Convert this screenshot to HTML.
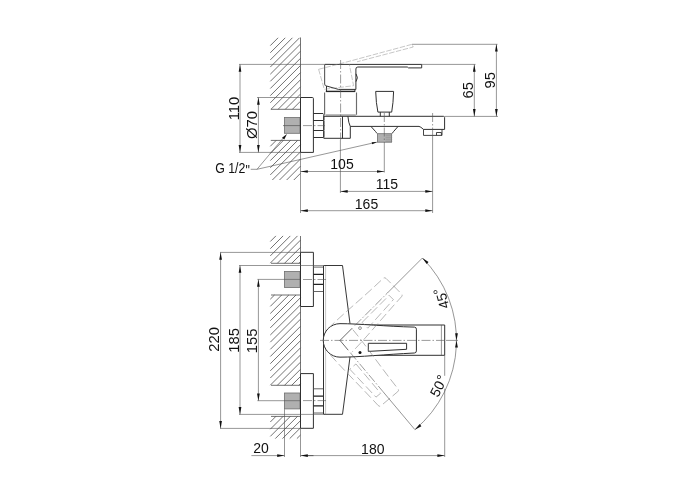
<!DOCTYPE html>
<html><head><meta charset="utf-8"><title>Faucet drawing</title>
<style>
html,body{margin:0;padding:0;background:#fff;}
body{width:700px;height:500px;overflow:hidden;}
svg{display:block;filter:grayscale(1);}
text{font-family:"Liberation Sans",sans-serif;fill:#111;}
</style></head><body>
<svg width="700" height="500" viewBox="0 0 700 500">
<rect x="0" y="0" width="700" height="500" fill="#fff"/>
<line x1="270.30" y1="45.60" x2="278.10" y2="37.80" stroke="#424242" stroke-width="0.75" fill="none"/>
<line x1="270.30" y1="52.75" x2="285.25" y2="37.80" stroke="#424242" stroke-width="0.75" fill="none"/>
<line x1="270.30" y1="59.90" x2="292.40" y2="37.80" stroke="#424242" stroke-width="0.75" fill="none"/>
<line x1="270.30" y1="67.05" x2="299.55" y2="37.80" stroke="#424242" stroke-width="0.75" fill="none"/>
<line x1="270.30" y1="74.20" x2="300.50" y2="44.00" stroke="#424242" stroke-width="0.75" fill="none"/>
<line x1="270.30" y1="81.35" x2="300.50" y2="51.15" stroke="#424242" stroke-width="0.75" fill="none"/>
<line x1="270.30" y1="88.50" x2="300.50" y2="58.30" stroke="#424242" stroke-width="0.75" fill="none"/>
<line x1="270.30" y1="95.65" x2="300.50" y2="65.45" stroke="#424242" stroke-width="0.75" fill="none"/>
<line x1="270.30" y1="102.80" x2="300.50" y2="72.60" stroke="#424242" stroke-width="0.75" fill="none"/>
<line x1="270.95" y1="109.30" x2="300.50" y2="79.75" stroke="#424242" stroke-width="0.75" fill="none"/>
<line x1="278.10" y1="109.30" x2="300.50" y2="86.90" stroke="#424242" stroke-width="0.75" fill="none"/>
<line x1="285.25" y1="109.30" x2="300.50" y2="94.05" stroke="#424242" stroke-width="0.75" fill="none"/>
<line x1="292.40" y1="109.30" x2="300.50" y2="101.20" stroke="#424242" stroke-width="0.75" fill="none"/>
<line x1="270.80" y1="109.30" x2="300.50" y2="109.30" stroke="#424242" stroke-width="0.75" fill="none"/>
<line x1="270.30" y1="146.30" x2="276.20" y2="140.40" stroke="#424242" stroke-width="0.75" fill="none"/>
<line x1="270.30" y1="153.45" x2="283.35" y2="140.40" stroke="#424242" stroke-width="0.75" fill="none"/>
<line x1="270.30" y1="160.60" x2="290.50" y2="140.40" stroke="#424242" stroke-width="0.75" fill="none"/>
<line x1="270.30" y1="167.75" x2="297.65" y2="140.40" stroke="#424242" stroke-width="0.75" fill="none"/>
<line x1="270.30" y1="174.90" x2="300.50" y2="144.70" stroke="#424242" stroke-width="0.75" fill="none"/>
<line x1="272.35" y1="180.00" x2="300.50" y2="151.85" stroke="#424242" stroke-width="0.75" fill="none"/>
<line x1="279.50" y1="180.00" x2="300.50" y2="159.00" stroke="#424242" stroke-width="0.75" fill="none"/>
<line x1="286.65" y1="180.00" x2="300.50" y2="166.15" stroke="#424242" stroke-width="0.75" fill="none"/>
<line x1="293.80" y1="180.00" x2="300.50" y2="173.30" stroke="#424242" stroke-width="0.75" fill="none"/>
<line x1="270.80" y1="140.40" x2="300.50" y2="140.40" stroke="#424242" stroke-width="0.75" fill="none"/>
<line x1="300.50" y1="37.50" x2="300.50" y2="97.50" stroke="#505050" stroke-width="0.8" fill="none"/>
<line x1="300.50" y1="152.40" x2="300.50" y2="213.00" stroke="#505050" stroke-width="0.6" fill="none"/>
<rect x="284.4" y="117.4" width="15.6" height="15.9" fill="#b0b0b0" stroke="#6e6e6e" stroke-width="0.8"/>
<path d="M300.5 97.5 H312.4 Q313.4 97.5 313.4 98.5 V152.4 H300.5 Z" stroke="#303030" stroke-width="1.0" fill="none" stroke-linejoin="round"/>
<path d="M313.4 113.5 H323 L323.8 114.3 V119.8 L323.2 120.5 L323.8 121.2 V129.8 L323.2 130.5 L323.8 131.2 V136.8 L323 137.5 H313.4" stroke="#303030" stroke-width="1.0" fill="none" stroke-linejoin="round"/>
<path d="M313.4 120.5 H323.2 M313.4 130.5 H323.2" stroke="#303030" stroke-width="1.0" fill="none" stroke-linejoin="round"/>
<path d="M324.6 92.4 V114.8 M356.5 92.4 V114.8" stroke="#6c6c6c" stroke-width="1.15" fill="none"/>
<path d="M325.6 115 H355.8" stroke="#6c6c6c" stroke-width="0.9" fill="none"/>
<path d="M325.8 91.4 H355.2" stroke="#262626" stroke-width="1.4" fill="none"/>
<path d="M323.8 116.3 H348 M323.8 116.3 V138.3 H350.3 V126.5" stroke="#303030" stroke-width="1.0" fill="none" stroke-linejoin="round"/>
<line x1="342.50" y1="116.30" x2="342.50" y2="138.30" stroke="#303030" stroke-width="1.0" fill="none" stroke-linejoin="round"/>
<path d="M325 64.4 H421.7 V67.9 H408.5 L407.3 67 H357.8 Q355.9 67 355.9 69 V89.4 H338.5 L326.5 86" stroke="#303030" stroke-width="1.0" fill="none" stroke-linejoin="round"/>
<path d="M324.6 64.4 V84 Q324.8 85.5 326.5 86" stroke="#606060" stroke-width="1.15" fill="none"/>
<path d="M326.5 86 V91.4 M354.9 89.4 V91.4" stroke="#303030" stroke-width="1.0" fill="none" stroke-linejoin="round"/>
<path d="M356 73.8 Q358.8 77.7 356 81.6" stroke="#303030" stroke-width="1.0" fill="none" stroke-linejoin="round"/>
<path d="M347.9 116.3 H443.4 Q444.6 116.3 444.6 117.5 V129.4 H423.5 M350.3 126.4 H419 Q420.5 126.6 423.5 129.4 M371 126.5 L375.6 131.6 Q376.4 133 377.3 133.5 M391.8 133.5 Q392.8 133 393.5 131.6 L398 126.5" stroke="#303030" stroke-width="1.0" fill="none" stroke-linejoin="round"/>
<path d="M347.9 116.3 Q348.5 123 350.3 126.5" stroke="#303030" stroke-width="1.0" fill="none" stroke-linejoin="round"/>
<path d="M423.5 129.4 V135.4 H442 V129.4 M436.5 135.4 V132.5 H441.4 V135.2" stroke="#303030" stroke-width="0.9" fill="none"/>
<rect x="377.5" y="133.7" width="14.1" height="8.5" fill="#b0b0b0" stroke="#6e6e6e" stroke-width="0.8"/>
<line x1="385.50" y1="135.20" x2="392.30" y2="135.20" stroke="#8a8a8a" stroke-width="0.6"/>
<line x1="385.50" y1="137.20" x2="392.30" y2="137.20" stroke="#8a8a8a" stroke-width="0.6"/>
<line x1="385.50" y1="139.20" x2="392.30" y2="139.20" stroke="#8a8a8a" stroke-width="0.6"/>
<line x1="385.50" y1="141.20" x2="392.30" y2="141.20" stroke="#8a8a8a" stroke-width="0.6"/>
<path d="M375.7 91.4 H393.6 Q393.3 103 391.7 112.1 H377.9 Q376 103 375.7 91.4 Z" stroke="#303030" stroke-width="1.0" fill="none" stroke-linejoin="round"/>
<path d="M380.3 112.1 V116.3 M389.3 112.1 V116.3" stroke="#303030" stroke-width="1.0" fill="none" stroke-linejoin="round"/>
<path d="M318.6 69.3 L324.3 89.3 L353.6 85.7 L349.3 64.3" stroke="#8e8e8e" stroke-width="0.5" fill="none" stroke-dasharray="5.5 1.5"/>
<path d="M318.6 69.3 L340.7 63.6 L412 44.3 L413.2 47 L357 61.8" stroke="#8e8e8e" stroke-width="0.5" fill="none" stroke-dasharray="5.5 1.5"/>
<line x1="340.60" y1="60.00" x2="340.60" y2="140.00" stroke="#555" stroke-width="0.6" fill="none" stroke-dasharray="9 2 1.5 2"/>
<line x1="340.40" y1="140.00" x2="340.40" y2="193.00" stroke="#505050" stroke-width="0.6" fill="none"/>
<line x1="384.30" y1="113.00" x2="384.30" y2="146.00" stroke="#555" stroke-width="0.6" fill="none" stroke-dasharray="9 2 1.5 2"/>
<line x1="384.30" y1="146.00" x2="384.30" y2="172.50" stroke="#505050" stroke-width="0.6" fill="none"/>
<line x1="432.60" y1="113.00" x2="432.60" y2="128.00" stroke="#555" stroke-width="0.6" fill="none" stroke-dasharray="9 2 1.5 2"/>
<line x1="432.60" y1="128.00" x2="432.60" y2="213.00" stroke="#505050" stroke-width="0.6" fill="none"/>
<line x1="283.00" y1="125.60" x2="300.00" y2="125.60" stroke="#555" stroke-width="0.7"/>
<line x1="303.00" y1="125.60" x2="325.00" y2="125.60" stroke="#555" stroke-width="0.6" fill="none" stroke-dasharray="9 2 1.5 2"/>
<line x1="239.00" y1="64.40" x2="330.00" y2="64.40" stroke="#505050" stroke-width="0.6" fill="none"/>
<line x1="239.00" y1="152.40" x2="300.50" y2="152.40" stroke="#505050" stroke-width="0.6" fill="none"/>
<line x1="240.00" y1="64.40" x2="240.00" y2="152.40" stroke="#505050" stroke-width="0.6" fill="none"/>
<polygon points="240.00,64.40 241.35,71.70 238.65,71.70" fill="#111"/>
<polygon points="240.00,152.40 238.65,145.10 241.35,145.10" fill="#111"/>
<text x="238.50" y="108.50" font-size="14.8" text-anchor="middle" transform="rotate(-90 238.50 108.50)">110</text>
<line x1="257.00" y1="97.50" x2="300.50" y2="97.50" stroke="#505050" stroke-width="0.6" fill="none"/>
<line x1="258.40" y1="97.50" x2="258.40" y2="152.40" stroke="#505050" stroke-width="0.6" fill="none"/>
<polygon points="258.40,97.50 259.75,104.80 257.05,104.80" fill="#111"/>
<polygon points="258.40,152.40 257.05,145.10 259.75,145.10" fill="#111"/>
<text x="256.50" y="125.00" font-size="14.8" text-anchor="middle" transform="rotate(-90 256.50 125.00)">Ø70</text>
<line x1="421.70" y1="64.40" x2="475.50" y2="64.40" stroke="#505050" stroke-width="0.6" fill="none"/>
<line x1="445.00" y1="116.40" x2="498.00" y2="116.40" stroke="#505050" stroke-width="0.6" fill="none"/>
<line x1="474.30" y1="64.40" x2="474.30" y2="116.40" stroke="#505050" stroke-width="0.6" fill="none"/>
<polygon points="474.30,64.40 475.65,71.70 472.95,71.70" fill="#111"/>
<polygon points="474.30,116.40 472.95,109.10 475.65,109.10" fill="#111"/>
<text x="473.20" y="90.30" font-size="14.8" text-anchor="middle" transform="rotate(-90 473.20 90.30)">65</text>
<line x1="412.00" y1="44.30" x2="497.50" y2="44.30" stroke="#505050" stroke-width="0.6" fill="none"/>
<line x1="496.40" y1="44.30" x2="496.40" y2="116.40" stroke="#505050" stroke-width="0.6" fill="none"/>
<polygon points="496.40,44.30 497.75,51.60 495.05,51.60" fill="#111"/>
<polygon points="496.40,116.40 495.05,109.10 497.75,109.10" fill="#111"/>
<text x="495.10" y="80.30" font-size="14.8" text-anchor="middle" transform="rotate(-90 495.10 80.30)">95</text>
<line x1="300.50" y1="171.50" x2="384.30" y2="171.50" stroke="#505050" stroke-width="0.6" fill="none"/>
<polygon points="300.50,171.50 307.80,170.15 307.80,172.85" fill="#111"/>
<polygon points="384.30,171.50 377.00,172.85 377.00,170.15" fill="#111"/>
<text x="342.00" y="168.80" font-size="14" text-anchor="middle">105</text>
<line x1="340.40" y1="191.40" x2="432.60" y2="191.40" stroke="#505050" stroke-width="0.6" fill="none"/>
<polygon points="340.40,191.40 347.70,190.05 347.70,192.75" fill="#111"/>
<polygon points="432.60,191.40 425.30,192.75 425.30,190.05" fill="#111"/>
<text x="387.00" y="189.20" font-size="14" text-anchor="middle">115</text>
<line x1="300.50" y1="210.70" x2="432.60" y2="210.70" stroke="#505050" stroke-width="0.6" fill="none"/>
<polygon points="300.50,210.70 307.80,209.35 307.80,212.05" fill="#111"/>
<polygon points="432.60,210.70 425.30,212.05 425.30,209.35" fill="#111"/>
<text x="366.50" y="208.50" font-size="14" text-anchor="middle">165</text>
<text x="215.2" y="173.2" font-size="14" textLength="34.6" lengthAdjust="spacingAndGlyphs">G 1/2<tspan dy="2">"</tspan></text>
<path d="M250.7 169.3 H257 L284.5 136.5 M257 169.3 L376.5 142.2" stroke="#505050" stroke-width="0.6" fill="none"/>
<polygon points="287.00,134.00 284.29,139.56 281.99,137.63" fill="#111"/>
<polygon points="377.30,142.00 372.19,144.31 371.69,142.17" fill="#111"/>
<line x1="270.30" y1="241.50" x2="275.90" y2="235.90" stroke="#424242" stroke-width="0.75" fill="none"/>
<line x1="270.30" y1="248.70" x2="283.10" y2="235.90" stroke="#424242" stroke-width="0.75" fill="none"/>
<line x1="270.30" y1="255.90" x2="290.30" y2="235.90" stroke="#424242" stroke-width="0.75" fill="none"/>
<line x1="270.30" y1="263.10" x2="297.50" y2="235.90" stroke="#424242" stroke-width="0.75" fill="none"/>
<line x1="277.30" y1="263.30" x2="300.50" y2="240.10" stroke="#424242" stroke-width="0.75" fill="none"/>
<line x1="284.50" y1="263.30" x2="300.50" y2="247.30" stroke="#424242" stroke-width="0.75" fill="none"/>
<line x1="291.70" y1="263.30" x2="300.50" y2="254.50" stroke="#424242" stroke-width="0.75" fill="none"/>
<line x1="298.90" y1="263.30" x2="300.50" y2="261.70" stroke="#424242" stroke-width="0.75" fill="none"/>
<line x1="271.00" y1="263.30" x2="300.50" y2="263.30" stroke="#424242" stroke-width="0.75" fill="none"/>
<line x1="270.30" y1="299.20" x2="274.50" y2="295.00" stroke="#424242" stroke-width="0.75" fill="none"/>
<line x1="270.30" y1="306.36" x2="281.66" y2="295.00" stroke="#424242" stroke-width="0.75" fill="none"/>
<line x1="270.30" y1="313.53" x2="288.83" y2="295.00" stroke="#424242" stroke-width="0.75" fill="none"/>
<line x1="270.30" y1="320.69" x2="296.00" y2="295.00" stroke="#424242" stroke-width="0.75" fill="none"/>
<line x1="270.30" y1="327.86" x2="300.50" y2="297.66" stroke="#424242" stroke-width="0.75" fill="none"/>
<line x1="270.30" y1="335.03" x2="300.50" y2="304.83" stroke="#424242" stroke-width="0.75" fill="none"/>
<line x1="270.30" y1="342.19" x2="300.50" y2="311.99" stroke="#424242" stroke-width="0.75" fill="none"/>
<line x1="270.30" y1="349.35" x2="300.50" y2="319.15" stroke="#424242" stroke-width="0.75" fill="none"/>
<line x1="270.30" y1="356.52" x2="300.50" y2="326.32" stroke="#424242" stroke-width="0.75" fill="none"/>
<line x1="270.30" y1="363.69" x2="300.50" y2="333.49" stroke="#424242" stroke-width="0.75" fill="none"/>
<line x1="270.30" y1="370.85" x2="300.50" y2="340.65" stroke="#424242" stroke-width="0.75" fill="none"/>
<line x1="270.30" y1="378.02" x2="300.50" y2="347.82" stroke="#424242" stroke-width="0.75" fill="none"/>
<line x1="270.30" y1="385.18" x2="300.50" y2="354.98" stroke="#424242" stroke-width="0.75" fill="none"/>
<line x1="277.34" y1="385.30" x2="300.50" y2="362.14" stroke="#424242" stroke-width="0.75" fill="none"/>
<line x1="284.51" y1="385.30" x2="300.50" y2="369.31" stroke="#424242" stroke-width="0.75" fill="none"/>
<line x1="291.68" y1="385.30" x2="300.50" y2="376.48" stroke="#424242" stroke-width="0.75" fill="none"/>
<line x1="298.84" y1="385.30" x2="300.50" y2="383.64" stroke="#424242" stroke-width="0.75" fill="none"/>
<line x1="271.00" y1="295.00" x2="300.50" y2="295.00" stroke="#424242" stroke-width="0.75" fill="none"/>
<line x1="271.00" y1="385.30" x2="300.50" y2="385.30" stroke="#424242" stroke-width="0.75" fill="none"/>
<line x1="270.30" y1="422.00" x2="275.90" y2="416.40" stroke="#424242" stroke-width="0.75" fill="none"/>
<line x1="270.30" y1="429.20" x2="283.10" y2="416.40" stroke="#424242" stroke-width="0.75" fill="none"/>
<line x1="270.30" y1="436.40" x2="290.30" y2="416.40" stroke="#424242" stroke-width="0.75" fill="none"/>
<line x1="275.30" y1="438.60" x2="297.50" y2="416.40" stroke="#424242" stroke-width="0.75" fill="none"/>
<line x1="282.50" y1="438.60" x2="300.50" y2="420.60" stroke="#424242" stroke-width="0.75" fill="none"/>
<line x1="289.70" y1="438.60" x2="300.50" y2="427.80" stroke="#424242" stroke-width="0.75" fill="none"/>
<line x1="296.90" y1="438.60" x2="300.50" y2="435.00" stroke="#424242" stroke-width="0.75" fill="none"/>
<line x1="271.00" y1="416.40" x2="300.50" y2="416.40" stroke="#424242" stroke-width="0.75" fill="none"/>
<line x1="300.50" y1="236.00" x2="300.50" y2="252.40" stroke="#505050" stroke-width="0.8" fill="none"/>
<line x1="300.50" y1="306.50" x2="300.50" y2="373.60" stroke="#505050" stroke-width="0.8" fill="none"/>
<line x1="300.50" y1="428.40" x2="300.50" y2="457.00" stroke="#505050" stroke-width="0.6" fill="none"/>
<rect x="284.4" y="271.5" width="15.6" height="16" fill="#b0b0b0" stroke="#6e6e6e" stroke-width="0.8"/>
<rect x="284.4" y="393.0" width="15.6" height="15.9" fill="#b0b0b0" stroke="#6e6e6e" stroke-width="0.8"/>
<path d="M300.5 252.3 H313.4 V306.5 H300.5 Z" stroke="#303030" stroke-width="1.0" fill="none" stroke-linejoin="round"/>
<path d="M300.5 373.6 H313.4 V428.3 H300.5 Z" stroke="#303030" stroke-width="1.0" fill="none" stroke-linejoin="round"/>
<path d="M313.4 267.1 H323.5 M313.4 291.5 H323.5" stroke="#555" stroke-width="0.9" fill="none"/>
<path d="M313.4 274.4 H323.4 M313.4 284.4 H323.4" stroke="#222" stroke-width="1.3" fill="none"/>
<path d="M313.4 388.8 H323.5 M313.4 413.0 H323.5" stroke="#555" stroke-width="0.9" fill="none"/>
<path d="M313.4 396.1 H323.4 M313.4 405.8 H323.4" stroke="#222" stroke-width="1.3" fill="none"/>
<path d="M323.5 266 V414" stroke="#303030" stroke-width="1.0" fill="none" stroke-linejoin="round"/>
<path d="M325.6 266 V414" stroke="#a0a0a0" stroke-width="0.6" fill="none"/>
<path d="M323.5 265.5 H342.5 L350 323.6 M323.5 414.3 H342.5 L350 357" stroke="#383838" stroke-width="1.0" fill="none" stroke-linejoin="round"/>
<path d="M352 325 H444.7 V355.3 H352" stroke="#303030" stroke-width="1.0" fill="none" stroke-linejoin="round"/>
<line x1="441.40" y1="325.00" x2="441.40" y2="355.30" stroke="#505050" stroke-width="0.6" fill="none"/>
<path d="M340 323.65 A16.75 16.75 0 0 0 340 357.15 C360 357.15 385 354.4 414.4 353 Q416.4 352.9 416.4 350.9 V329.2 Q416.4 327.2 414.4 327.1 C385 326.4 360 323.65 340 323.65 Z" fill="#fff" stroke="#303030" stroke-width="1.0"  stroke-linejoin="round"/>
<path d="M368.3 343.3 H406.6 V349.3 L368.3 351.4 Z" stroke="#303030" stroke-width="1.0" fill="none" stroke-linejoin="round"/>
<circle cx="360" cy="352.4" r="1.5" fill="#111"/>
<circle cx="360" cy="328.1" r="1.4" stroke="#505050" stroke-width="0.6" fill="none"/>
<g transform="rotate(-45 340 340.4)">
<path d="M340 323.65 C360 323.65 385 326.4 414.4 327.1 Q416.4 327.2 416.4 329.2 V350.9 Q416.4 352.9 414.4 353 C385 354.4 360 357.15 340 357.15" stroke="#858585" stroke-width="0.55" fill="none" stroke-dasharray="9 3.5"/>
<path d="M368.3 343.3 H406.6 V349.3 L368.3 351.4 Z" stroke="#858585" stroke-width="0.55" fill="none" stroke-dasharray="9 3.5"/>
</g>
<g transform="rotate(50 340 340.4)">
<path d="M340 323.65 C360 323.65 385 326.4 414.4 327.1 Q416.4 327.2 416.4 329.2 V350.9 Q416.4 352.9 414.4 353 C385 354.4 360 357.15 340 357.15" stroke="#858585" stroke-width="0.55" fill="none" stroke-dasharray="9 3.5"/>
<path d="M368.3 343.3 H406.6 V349.3 L368.3 351.4 Z" stroke="#858585" stroke-width="0.55" fill="none" stroke-dasharray="9 3.5"/>
</g>
<line x1="320.00" y1="340.40" x2="446.00" y2="340.40" stroke="#555" stroke-width="0.6" fill="none" stroke-dasharray="9 2 1.5 2"/>
<line x1="446.00" y1="340.40" x2="458.00" y2="340.40" stroke="#505050" stroke-width="0.6" fill="none"/>
<line x1="340.00" y1="340.40" x2="352.23" y2="328.17" stroke="#444" stroke-width="0.8" fill="none"/>
<line x1="354.85" y1="325.55" x2="387.38" y2="293.02" stroke="#555" stroke-width="0.6" fill="none" stroke-dasharray="9 2 1.5 2"/>
<line x1="387.38" y1="293.02" x2="422.38" y2="258.02" stroke="#505050" stroke-width="0.6" fill="none"/>
<line x1="340.00" y1="340.40" x2="348.23" y2="350.21" stroke="#444" stroke-width="0.8" fill="none"/>
<line x1="350.28" y1="352.66" x2="383.07" y2="391.72" stroke="#555" stroke-width="0.6" fill="none" stroke-dasharray="9 2 1.5 2"/>
<line x1="383.07" y1="391.72" x2="414.88" y2="429.64" stroke="#505050" stroke-width="0.6" fill="none"/>
<path d="M422.38 258.02 A116.5 116.5 0 0 1 414.88 429.64" stroke="#505050" stroke-width="0.6" fill="none"/>
<polygon points="422.38,258.02 428.53,262.00 426.67,263.96" fill="#111"/>
<polygon points="414.88,429.64 419.68,424.11 421.36,426.22" fill="#111"/>
<polygon points="456.50,340.40 455.10,333.20 457.90,333.20" fill="#111"/>
<polygon points="456.50,340.40 457.90,347.60 455.10,347.60" fill="#111"/>
<text x="446.70" y="297.00" font-size="14" text-anchor="middle" transform="rotate(-105 446.70 297.00)">45<tspan dy="-1.8">°</tspan></text>
<text x="443.00" y="388.30" font-size="14" text-anchor="middle" transform="rotate(-62 443.00 388.30)">50<tspan dx="0.6" dy="-1">°</tspan></text>
<line x1="220.00" y1="252.40" x2="300.50" y2="252.40" stroke="#505050" stroke-width="0.6" fill="none"/>
<line x1="220.00" y1="428.40" x2="300.50" y2="428.40" stroke="#505050" stroke-width="0.6" fill="none"/>
<line x1="220.60" y1="252.40" x2="220.60" y2="428.40" stroke="#505050" stroke-width="0.6" fill="none"/>
<polygon points="220.60,252.40 221.95,259.70 219.25,259.70" fill="#111"/>
<polygon points="220.60,428.40 219.25,421.10 221.95,421.10" fill="#111"/>
<text x="219.00" y="339.40" font-size="14.8" text-anchor="middle" transform="rotate(-90 219.00 339.40)">220</text>
<line x1="239.00" y1="265.50" x2="325.00" y2="265.50" stroke="#505050" stroke-width="0.6" fill="none"/>
<line x1="239.00" y1="414.40" x2="325.00" y2="414.40" stroke="#505050" stroke-width="0.6" fill="none"/>
<line x1="240.00" y1="265.50" x2="240.00" y2="414.40" stroke="#505050" stroke-width="0.6" fill="none"/>
<polygon points="240.00,265.50 241.35,272.80 238.65,272.80" fill="#111"/>
<polygon points="240.00,414.40 238.65,407.10 241.35,407.10" fill="#111"/>
<text x="238.80" y="340.30" font-size="14.8" text-anchor="middle" transform="rotate(-90 238.80 340.30)">185</text>
<line x1="257.40" y1="279.40" x2="300.50" y2="279.40" stroke="#505050" stroke-width="0.6" fill="none"/>
<line x1="257.40" y1="400.70" x2="300.50" y2="400.70" stroke="#505050" stroke-width="0.6" fill="none"/>
<line x1="303.00" y1="279.50" x2="326.00" y2="279.50" stroke="#555" stroke-width="0.6" fill="none" stroke-dasharray="9 2 1.5 2"/>
<line x1="303.00" y1="400.60" x2="326.00" y2="400.60" stroke="#555" stroke-width="0.6" fill="none" stroke-dasharray="9 2 1.5 2"/>
<line x1="258.40" y1="279.40" x2="258.40" y2="400.70" stroke="#505050" stroke-width="0.6" fill="none"/>
<polygon points="258.40,279.40 259.75,286.70 257.05,286.70" fill="#111"/>
<polygon points="258.40,400.70 257.05,393.40 259.75,393.40" fill="#111"/>
<text x="257.50" y="340.80" font-size="14.8" text-anchor="middle" transform="rotate(-90 257.50 340.80)">155</text>
<line x1="251.40" y1="455.60" x2="284.50" y2="455.60" stroke="#505050" stroke-width="0.6" fill="none"/>
<line x1="300.50" y1="455.60" x2="444.70" y2="455.60" stroke="#505050" stroke-width="0.6" fill="none"/>
<line x1="306.50" y1="455.60" x2="313.50" y2="455.60" stroke="#555" stroke-width="0.9"/>
<line x1="284.50" y1="409.20" x2="284.50" y2="457.00" stroke="#505050" stroke-width="0.6" fill="none"/>
<line x1="444.70" y1="355.30" x2="444.70" y2="375.80" stroke="#505050" stroke-width="0.6" fill="none"/>
<line x1="444.70" y1="388.70" x2="444.70" y2="457.00" stroke="#505050" stroke-width="0.6" fill="none"/>
<polygon points="284.50,455.60 277.20,456.95 277.20,454.25" fill="#111"/>
<polygon points="300.50,455.60 307.80,454.25 307.80,456.95" fill="#111"/>
<polygon points="444.70,455.60 437.40,456.95 437.40,454.25" fill="#111"/>
<text x="261.00" y="453.40" font-size="14" text-anchor="middle">20</text>
<text x="372.80" y="453.60" font-size="14" text-anchor="middle">180</text>
</svg>
</body></html>
